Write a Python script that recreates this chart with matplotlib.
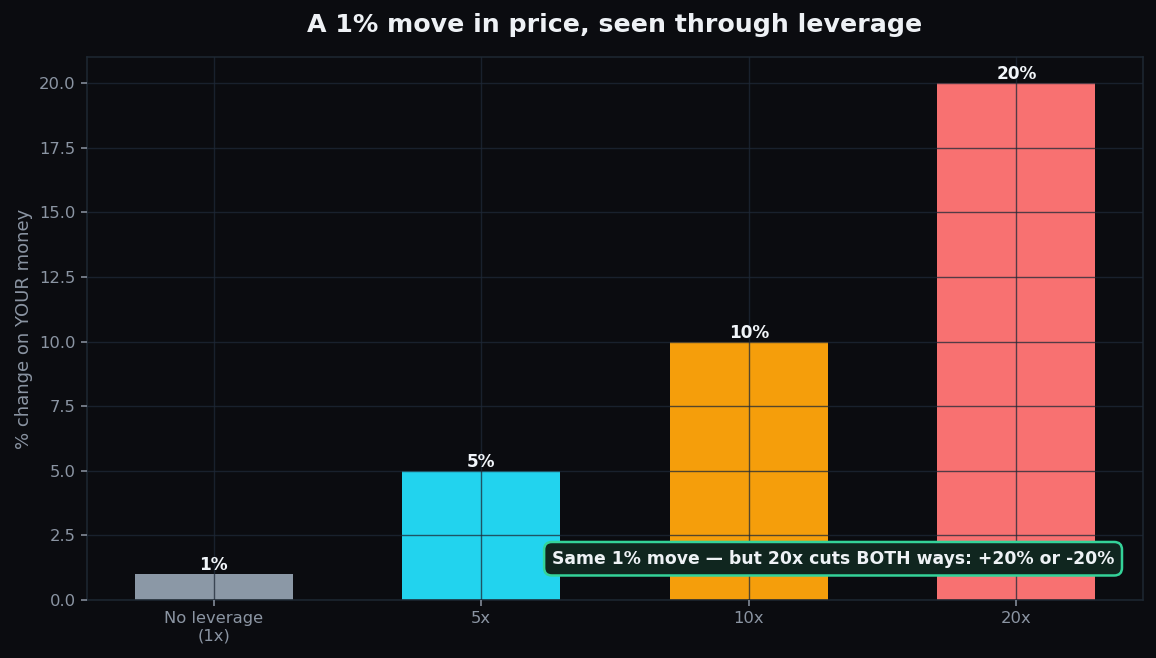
import matplotlib.pyplot as plt

# data
labels = ["No leverage\n(1x)", "5x", "10x", "20x"]
values = [1, 5, 10, 20]
colors = ["#8b98a6", "#22d3ee", "#f59e0b", "#f87171"]

bg = "#0b0c10"
fig, ax = plt.subplots(figsize=(11.56, 6.58), dpi=100)
fig.patch.set_facecolor(bg)
ax.set_facecolor(bg)

x = range(len(values))
bars = ax.bar(x, values, width=0.59, color=colors)

# value labels on top of bars
for b, v in zip(bars, values):
    ax.text(b.get_x() + b.get_width() / 2, v, f"{v}%", ha="center", va="bottom",
            color="#f1f5f9", fontsize=12.2, fontweight="bold")

ax.set_xticks(list(x))
ax.set_xticklabels(labels)
ax.set_ylabel("% change on YOUR money", color="#8b95a3", fontsize=13)
ax.set_title("A 1% move in price, seen through leverage", color="#eef1f5",
             fontsize=18.2, fontweight="bold", pad=18)

ax.tick_params(colors="#8b95a3", labelsize=11.8, length=4.5, width=1.1)
for s in ax.spines.values():
    s.set_color("#1e2833")
    s.set_linewidth(1.1)
ax.grid(True, color="#1f2937", alpha=0.75, linewidth=1.0)
ax.set_axisbelow(False)

ax.text(2.315, 1.6, "Same 1% move — but 20x cuts BOTH ways: +20% or -20%",
        ha="center", va="center", color="#eef2f5", fontsize=12.4, fontweight="bold",
        bbox=dict(boxstyle="round,pad=0.45", facecolor="#10261f", edgecolor="#34d399",
                  linewidth=1.8))

fig.subplots_adjust(left=0.075, right=0.989, top=0.913, bottom=0.088)
fig.savefig("out.png", facecolor=bg)
